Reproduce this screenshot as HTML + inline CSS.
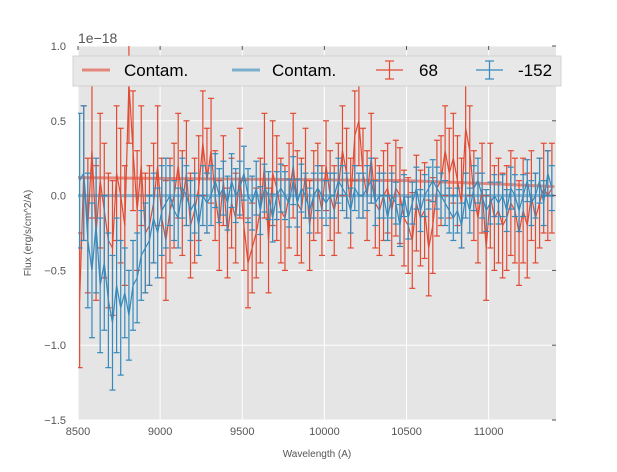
<!DOCTYPE html>
<html><head><meta charset="utf-8"><style>
body{margin:0;background:#fff;font-family:"Liberation Sans",sans-serif}
svg text{font-family:"Liberation Sans",sans-serif}
</style></head><body>
<svg id="chart" width="617" height="467" xmlns="http://www.w3.org/2000/svg">
<defs><clipPath id="plotclip"><rect x="78" y="46" width="478" height="374"/></clipPath></defs>
<rect x="78" y="46" width="478" height="374" fill="#e5e5e5"/>
<g id="grid"></g>
<g id="marks" clip-path="url(#plotclip)"></g>
<g id="axes"></g>
<text x="78" y="43" font-size="14" fill="#555">1e−18</text>
<text x="317" y="457" font-size="10" fill="#555" text-anchor="middle">Wavelength (A)</text>
<text transform="translate(31,233) rotate(-90)" font-size="10" fill="#555" text-anchor="middle">Flux (erg/s/cm^2/A)</text>
<g>
<rect x="73" y="56" width="488" height="30" fill="#e8e8e8" stroke="#ccc" stroke-width="0.8"/>
<line x1="82" y1="70" x2="110" y2="70" stroke="#E24A33" stroke-width="3" opacity="0.6"/>
<text x="124" y="76" font-size="17" fill="#000">Contam.</text>
<line x1="232" y1="70" x2="260" y2="70" stroke="#348ABD" stroke-width="3" opacity="0.6"/>
<text x="272" y="76" font-size="17" fill="#000">Contam.</text>
<g stroke="#E24A33" stroke-width="1.2"><line x1="376" y1="70" x2="403" y2="70"/><line x1="389.5" y1="61" x2="389.5" y2="79"/><line x1="385" y1="61" x2="394" y2="61"/><line x1="385" y1="79" x2="394" y2="79"/></g>
<text x="419" y="76" font-size="17" fill="#000">68</text>
<g stroke="#348ABD" stroke-width="1.2"><line x1="476" y1="70" x2="503" y2="70"/><line x1="489.5" y1="61" x2="489.5" y2="79"/><line x1="485" y1="61" x2="494" y2="61"/><line x1="485" y1="79" x2="494" y2="79"/></g>
<text x="518" y="76" font-size="17" fill="#000">-152</text>
</g>
</svg>
<script>
const xTicks=[8500,9000,9500,10000,10500,11000];
const yTicks=[-1.5,-1.0,-0.5,0.0,0.5,1.0];
const yTickLabels=["−1.5","−1.0","−0.5","0.0","0.5","1.0"];
const wave0=8510, waveStep=25;
const redFlux=[-0.7,0.15,-0.2,0.3,-0.25,0.1,-0.1,-0.3,-0.35,0.15,0.0,
-0.2,0.75,0.3,-0.1,0.2,-0.25,-0.2,-0.05,0.2,-0.15,-0.3,
-0.1,0.0,0.2,-0.05,0.15,-0.2,-0.1,0.05,0.35,0.1,0.3,
0.0,-0.2,0.1,-0.25,-0.05,-0.15,0.15,-0.2,-0.45,-0.35,-0.25,
-0.1,0.2,-0.3,0.15,0.05,-0.1,-0.15,0.0,0.2,-0.05,-0.1,
0.15,-0.2,0.0,0.05,-0.1,0.2,0.0,-0.1,0.05,0.3,0.15,
-0.05,0.4,0.5,0.15,0.0,0.25,-0.05,-0.1,0.0,0.05,-0.1,
0.05,0.0,-0.15,-0.2,-0.3,-0.05,-0.15,-0.1,-0.35,-0.2,0.05,
0.1,0.3,0.15,0.25,0.1,-0.05,0.45,0.3,0.0,-0.15,0.05,
-0.35,0.0,-0.15,-0.1,-0.2,-0.15,-0.05,-0.1,-0.25,-0.1,-0.2,
0.0,-0.15,-0.05,0.05,0.0,0.05];
const redErr=[0.45,0.4,0.35,0.3,0.35,0.3,0.3,0.32,0.3,0.35,0.3];
const blueFlux=[0.1,0.15,-0.3,-0.5,-0.2,-0.6,-0.45,-0.7,-0.85,-0.6,-0.75,
-0.65,-0.8,-0.6,-0.55,-0.4,-0.35,-0.3,-0.15,-0.25,-0.1,-0.05,
0.0,-0.1,-0.15,0.05,0.0,-0.1,-0.05,-0.2,0.0,-0.05,0.0,
0.1,0.0,0.05,-0.05,0.1,0.0,0.05,0.15,0.0,-0.05,0.05,
-0.1,0.05,0.0,-0.15,0.0,0.05,0.0,-0.05,0.1,-0.05,0.05,
0.0,-0.1,0.0,0.05,0.0,-0.05,0.0,0.0,0.1,0.05,0.0,
-0.1,0.05,0.0,0.0,0.05,0.1,-0.05,0.0,0.0,-0.15,0.0,
-0.05,-0.2,0.0,-0.15,-0.05,0.05,-0.1,0.0,0.05,0.1,0.05,
0.0,-0.05,-0.1,-0.15,-0.1,-0.2,0.0,-0.1,0.05,0.1,0.0,
-0.1,-0.05,0.0,-0.05,0.0,-0.1,0.05,0.0,-0.1,0.0,0.1,
-0.05,0.0,0.1,-0.05,0.15,0.05];
const blueErr=[0.45,0.3,0.2,0.18,0.16,0.15,0.15,0.14,0.15,0.14,0.15];
const contamRedX=[8500,10500,11000,11400];
const contamRedY=[0.12,0.1,0.08,0.06];
const contamBlueX=[8500,11400];
const contamBlueY=[0.0,0.0];

const X0=78,X1=556,Y0=420,Y1=46;
const xs=v=>X0+(v-8500)/(11410-8500)*(X1-X0);
const ys=v=>Y0-(v+1.5)/2.5*(Y0-Y1);
const NS="http://www.w3.org/2000/svg";
function mk(parent,tag,attrs){const e=document.createElementNS(NS,tag);for(const k in attrs)e.setAttribute(k,attrs[k]);parent.appendChild(e);return e;}
const grid=document.getElementById('grid'),marks=document.getElementById('marks'),axes=document.getElementById('axes');
xTicks.forEach(t=>{
 const g=mk(grid,'line',{x1:xs(t),x2:xs(t),y1:Y1,y2:Y0,stroke:'#fff','stroke-width':1});
 
 
 const l=mk(axes,'text',{x:xs(t),y:Y0+15,'font-size':11,fill:'#555','text-anchor':'middle'});
 
 
 l.textContent=t;
 mk(axes,'line',{x1:xs(t),x2:xs(t),y1:Y1,y2:Y1+4,stroke:'#555'});
});
yTicks.forEach((t,i)=>{
 const g=mk(grid,'line',{x1:X0,x2:X1,y1:ys(t),y2:ys(t),stroke:'#fff','stroke-width':1});
 
 
 const l=mk(axes,'text',{x:X0-12,y:ys(t)+4,'font-size':11,fill:'#555','text-anchor':'end'});
 
 
 l.textContent=yTickLabels[i];
 mk(axes,'line',{x1:X1-4,x2:X1,y1:ys(t),y2:ys(t),stroke:'#555'});
});
function series(flux,err,color,name){
 const g=mk(marks,'g',{stroke:color,'stroke-width':1.2,fill:'none'});
 
 
 let d='';
 flux.forEach((v,i)=>{
  const x=xs(wave0+i*waveStep),e=err[Math.floor(i/11)]||err[err.length-1];
  mk(g,'line',{x1:x,x2:x,y1:ys(v-e),y2:ys(v+e)});
  mk(g,'line',{x1:x-3,x2:x+3,y1:ys(v-e),y2:ys(v-e)});
  mk(g,'line',{x1:x-3,x2:x+3,y1:ys(v+e),y2:ys(v+e)});
  d+=(i?'L':'M')+x+' '+ys(v);
 });
 const p=mk(g,'path',{d:d});
 
 
}
function contam(xa,ya,color,name){
 const p=mk(marks,'polyline',{points:xa.map((x,i)=>xs(x)+','+ys(ya[i])).join(' '),stroke:color,'stroke-width':3,opacity:0.6,fill:'none'});
 
 
}
contam(contamRedX,contamRedY,'#E24A33','contam-red');
contam(contamBlueX,contamBlueY,'#348ABD','contam-blue');
series(redFlux,redErr,'#E24A33','series-68');
series(blueFlux,blueErr,'#348ABD','series-minus-152');
</script>
</body></html>
